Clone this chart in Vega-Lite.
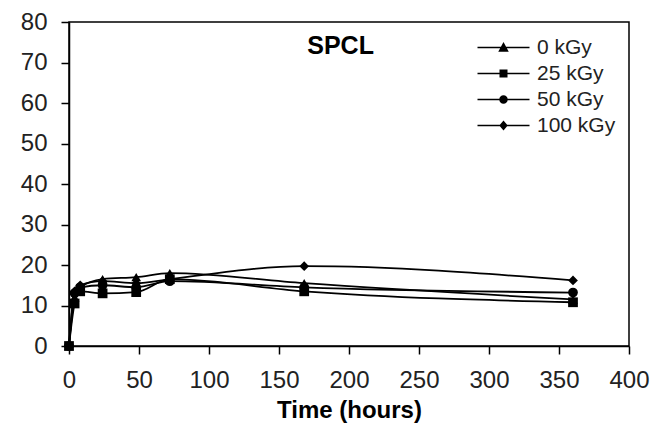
{
  "$schema": "https://vega.github.io/schema/vega-lite/v6.json",
  "width": 560,
  "height": 324,
  "autosize": {"type": "none"},
  "padding": {"left": 69, "top": 22, "right": 25, "bottom": 88},
  "background": "white",
  "config": {
    "view": {"stroke": "black", "strokeWidth": 1.5},
    "font": "Liberation Sans",
    "axis": {
      "grid": false,
      "domainColor": "black",
      "domainWidth": 1.5,
      "tickColor": "black",
      "tickWidth": 1.5,
      "tickSize": 8,
      "labelFont": "Liberation Sans",
      "labelFontSize": 24,
      "labelColor": "#222222",
      "titleFont": "Liberation Sans",
      "titleFontSize": 24,
      "titleFontWeight": "bold",
      "titleColor": "black"
    }
  },
  "datasets": {
    "series": [
      {"dose": "0 kGy", "time": 0, "value": 0},
      {"dose": "0 kGy", "time": 4, "value": 12},
      {"dose": "0 kGy", "time": 8, "value": 14.5},
      {"dose": "0 kGy", "time": 24, "value": 16.5},
      {"dose": "0 kGy", "time": 48, "value": 17},
      {"dose": "0 kGy", "time": 72, "value": 18},
      {"dose": "0 kGy", "time": 168, "value": 15.5},
      {"dose": "0 kGy", "time": 360, "value": 11.5},
      {"dose": "25 kGy", "time": 0, "value": 0},
      {"dose": "25 kGy", "time": 4, "value": 10.5},
      {"dose": "25 kGy", "time": 8, "value": 13.5},
      {"dose": "25 kGy", "time": 24, "value": 13},
      {"dose": "25 kGy", "time": 48, "value": 13.3},
      {"dose": "25 kGy", "time": 72, "value": 16.5},
      {"dose": "25 kGy", "time": 168, "value": 13.5},
      {"dose": "25 kGy", "time": 360, "value": 10.8},
      {"dose": "50 kGy", "time": 0, "value": 0},
      {"dose": "50 kGy", "time": 4, "value": 13},
      {"dose": "50 kGy", "time": 8, "value": 14.5},
      {"dose": "50 kGy", "time": 24, "value": 15},
      {"dose": "50 kGy", "time": 48, "value": 14.5},
      {"dose": "50 kGy", "time": 72, "value": 16},
      {"dose": "50 kGy", "time": 168, "value": 14.5},
      {"dose": "50 kGy", "time": 360, "value": 13.2},
      {"dose": "100 kGy", "time": 0, "value": 0},
      {"dose": "100 kGy", "time": 4, "value": 13.5},
      {"dose": "100 kGy", "time": 8, "value": 15},
      {"dose": "100 kGy", "time": 24, "value": 16},
      {"dose": "100 kGy", "time": 48, "value": 15.5},
      {"dose": "100 kGy", "time": 72, "value": 16.5},
      {"dose": "100 kGy", "time": 168, "value": 19.7},
      {"dose": "100 kGy", "time": 360, "value": 16.2}
    ],
    "label": [
      {"time": 194, "value": 74, "text": "SPCL"}
    ]
  },
  "data": {"name": "series"},
  "encoding": {
    "x": {
      "field": "time",
      "type": "quantitative",
      "title": "Time (hours)",
      "scale": {"domain": [0, 400], "nice": false},
      "axis": {"values": [0, 50, 100, 150, 200, 250, 300, 350, 400], "labelPadding": 14, "titlePadding": 6, "labelFlush": false}
    },
    "y": {
      "field": "value",
      "type": "quantitative",
      "title": null,
      "scale": {"domain": [0, 80], "nice": false},
      "axis": {"values": [0, 10, 20, 30, 40, 50, 60, 70, 80], "labelPadding": 14, "labelFlush": false}
    }
  },
  "layer": [
    {
      "mark": {"type": "line", "interpolate": "monotone", "color": "black", "strokeWidth": 1.8},
      "encoding": {"detail": {"field": "dose"}}
    },
    {
      "mark": {"type": "point", "filled": true, "color": "black", "size": 95, "opacity": 1},
      "encoding": {
        "shape": {
          "field": "dose",
          "type": "nominal",
          "scale": {"domain": ["0 kGy", "25 kGy", "50 kGy", "100 kGy"], "range": ["triangle-up", "square", "circle", "diamond"]},
          "legend": null
        }
      }
    },
    {
      "mark": {"type": "point", "filled": true, "color": "black", "opacity": 0},
      "encoding": {
        "shape": {
          "field": "dose",
          "type": "nominal",
          "scale": {
            "domain": ["0 kGy", "25 kGy", "50 kGy", "100 kGy"],
            "range": [
              "M-5.2,-0.15H5.2V0.15H-5.2Z M0,-1.1L1.05,0.85H-1.05Z",
              "M-5.2,-0.15H5.2V0.15H-5.2Z M-0.8,-0.8H0.8V0.8H-0.8Z",
              "M-5.2,-0.15H5.2V0.15H-5.2Z M-0.85,0A0.85,0.85 0 1,1 0.85,0A0.85,0.85 0 1,1 -0.85,0Z",
              "M-5.2,-0.15H5.2V0.15H-5.2Z M0,-1L0.85,0L0,1L-0.85,0Z"
            ]
          },
          "legend": {
            "title": null,
            "orient": "none",
            "legendX": 424,
            "legendY": 15,
            "symbolSize": 100,
            "symbolOpacity": 1,
            "symbolFillColor": "black",
            "symbolStrokeWidth": 0,
            "labelFont": "Liberation Sans",
            "labelFontSize": 21,
            "labelColor": "#222222",
            "labelOffset": 23,
            "rowPadding": 4,
            "padding": 0
          }
        }
      }
    },
    {
      "data": {"name": "label"},
      "mark": {"type": "text", "font": "Liberation Sans", "fontSize": 25, "fontWeight": "bold", "color": "black", "align": "center", "baseline": "middle"},
      "encoding": {
        "text": {"field": "text"}
      }
    }
  ],
  "resolve": {"scale": {"shape": "independent"}}
}
